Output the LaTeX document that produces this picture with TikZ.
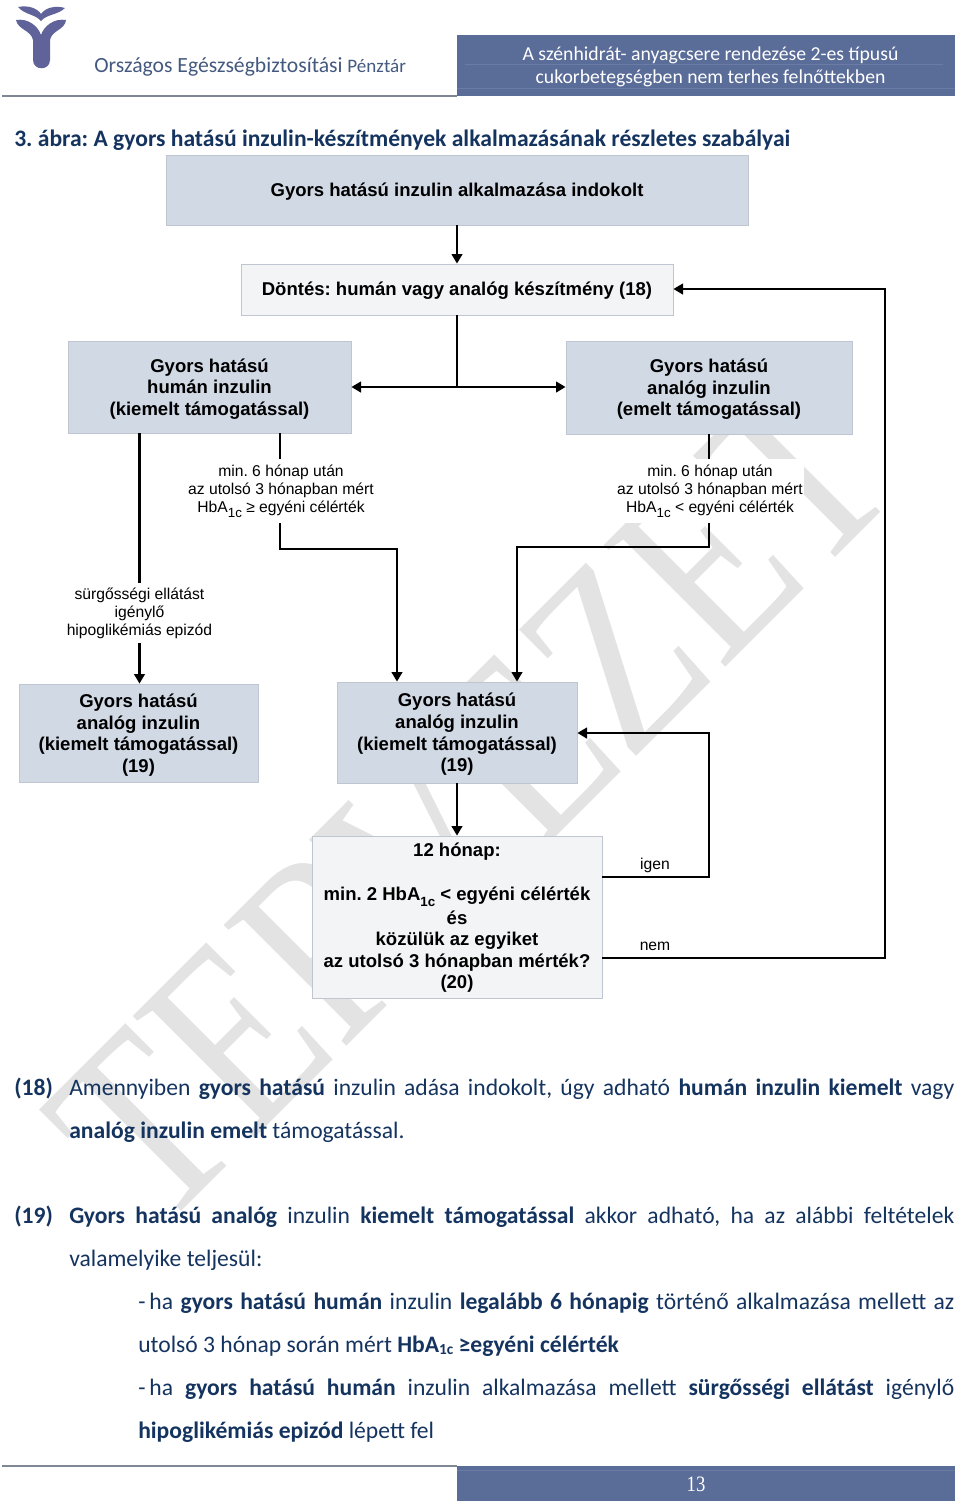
\documentclass[tikz,border=0pt]{standalone}
\usepackage{fontspec}
\setmainfont{Liberation Sans}
\newfontfamily\bodyfont{Carlito}
\newfontfamily\serfont{Liberation Serif}
\usetikzlibrary{arrows.meta}
\frenchspacing
\definecolor{boxblue}{HTML}{D1D9E5}
\definecolor{boxgray}{HTML}{F3F4F5}
\definecolor{boxedge}{HTML}{BFC6D2}
\definecolor{navy}{HTML}{14345F}
\definecolor{bandblue}{HTML}{5A6C98}
\definecolor{bandline}{HTML}{6A7BA5}
\definecolor{rulegray}{HTML}{7F8794}
\definecolor{logoblue}{HTML}{5F6399}
\definecolor{headtext}{HTML}{44597F}
\definecolor{wm}{HTML}{E3E3E3}
\newcommand\subc[1]{\raisebox{-0.6ex}{\fontsize{10}{10}\selectfont #1}}
\newcommand\bsub[1]{\raisebox{-0.25ex}{\fontsize{11.5}{11.5}\selectfont #1}}
\newcommand\jline[1]{\makebox[663.75pt][s]{#1}}
\newcommand\jlineb[1]{\makebox[612pt][s]{#1}}
\newcommand\tr[1]{\rule{0pt}{#1pt}}
\tikzset{
  pxbox/.style 2 args={minimum width=#1*0.75pt,minimum height=#2*0.75pt,inner sep=0pt,align=center},
  bluebox/.style={draw=boxedge,line width=0.6pt,fill=boxblue,font=\fontsize{13.9}{16.2}\selectfont\bfseries},
  graybox/.style={draw=boxedge,line width=0.6pt,fill=boxgray,font=\fontsize{13.9}{16.2}\selectfont\bfseries},
  condlabel/.style={fill=white,inner sep=0pt,align=center,font=\fontsize{11.75}{13.6}\selectfont},
  smalllabel/.style={inner sep=0pt,font=\fontsize{11.75}{13.6}\selectfont},
  flow/.style={draw=black,line width=1.6pt},
  flowarrow/.style={flow,-{Triangle[length=7.2pt,width=8pt]}},
  bodyline/.style={anchor=base west,inner sep=0pt,text=navy,font=\bodyfont\fontsize{17.7}{20}\selectfont},
  headline/.style={inner sep=0pt,text=white,font=\bodyfont\fontsize{14.8}{17}\selectfont},
  watermark/.style={inner sep=0pt,text=wm,font=\serfont\fontsize{159}{159}\selectfont}
}
\begin{document}
\begin{tikzpicture}[x=0.75pt,y=-0.75pt]
\useasboundingbox (0,0) rectangle (960,1507);
% watermark
\node[watermark,rotate=45,yscale=1.24] (wmark) at (472,802) {TERVEZET};
% header
\fill[logoblue] (16,20) .. controls (28,18) and (38,26) .. (41,35) .. controls (44,26) and (54,18) .. (66,20)
  .. controls (65,30) and (52,30) .. (50,40) -- (50,60) .. controls (50,71) and (33,71) .. (33,60) -- (33,40)
  .. controls (31,30) and (18,30) .. (16,20) -- cycle;
\fill[logoblue] (18,7) .. controls (28,5) and (37,8) .. (41,14) .. controls (45,8) and (55,5) .. (65,8)
  .. controls (58,15) and (47,14) .. (41,21) .. controls (35,14) and (25,15) .. (18,7) -- cycle;
\node[inner sep=0pt,anchor=base west,text=headtext,font=\bodyfont\fontsize{16.25}{18}\selectfont] (org) at (94,72)
  {Országos Egészségbiztosítási \fontsize{14.3}{16}\selectfont Pénztár};
\draw[rulegray,line width=0.9pt] (2,96) -- (457,96);
\fill[bandblue] (457,35) rectangle (955,96);
\draw[bandline,line width=0.4pt] (465,64) -- (943,64) (457,88.5) -- (955,88.5);
\node[headline] (h1) at (710.5,55) {A szénhidrát- anyagcsere rendezése 2-es típusú};
\node[headline] (h2) at (710.5,78) {cukorbetegségben nem terhes felnőttekben};
% title
\node[inner sep=0pt,anchor=base west,text=navy,font=\bodyfont\bfseries\fontsize{17.7}{20}\selectfont] (title) at (14,146)
  {3. ábra: A gyors hatású inzulin-készítmények alkalmazásának részletes szabályai};
% boxes
\node[bluebox,pxbox={582}{70}] (A) at (457,190) {\tr{12.4}Gyors hatású inzulin alkalmazása indokolt};
\node[graybox,pxbox={432}{51}] (B) at (457,289.5) {\tr{12.4}Döntés: humán vagy analóg készítmény (18)};
\node[bluebox,pxbox={283}{92}] (C) at (209.5,387) {\tr{13.1}Gyors hatású\\humán inzulin\\(kiemelt támogatással)};
\node[bluebox,pxbox={286}{93}] (D) at (709,387.5) {\tr{13.1}Gyors hatású\\analóg inzulin\\(emelt támogatással)};
\node[bluebox,pxbox={239}{98}] (E) at (138.5,733) {\tr{13.1}Gyors hatású\\analóg inzulin\\(kiemelt támogatással)\\(19)};
\node[bluebox,pxbox={240}{101}] (F) at (457,732.5) {\tr{13.1}Gyors hatású\\analóg inzulin\\(kiemelt támogatással)\\(19)};
\node[draw=boxedge,line width=0.6pt,fill=boxgray,pxbox={290}{162}] (G) at (457,917) {};
\node[inner sep=0pt,font=\fontsize{13.9}{16.1}\selectfont\bfseries] (G1) at (457,852) {12 hónap:};
\node[inner sep=0pt,align=center,font=\fontsize{13.9}{16.1}\selectfont\bfseries] (G2) at (457,940)
  {min. 2 HbA\subc{1c} < egyéni célérték\\[1.5pt]és\\közülük az egyiket\\az utolsó 3 hónapban mérték?\\(20)};
% condition labels
\node[condlabel,minimum width=139.5pt,minimum height=48pt] (L1) at (281,491)
  {min. 6 hónap után\\az utolsó 3 hónapban mért\\HbA\subc{1c} ≥ egyéni célérték};
\node[condlabel,minimum width=141pt,minimum height=48pt] (L2) at (710,491)
  {min. 6 hónap után\\az utolsó 3 hónapban mért\\HbA\subc{1c} < egyéni célérték};
\node[condlabel,minimum width=109.5pt,minimum height=44pt] (L3) at (139.5,613)
  {sürgősségi ellátást\\igénylő\\hipoglikémiás epizód};
% connector corner points
\coordinate (c1a) at (280,549);
\coordinate (c1b) at (397,549);
\coordinate (c2a) at (709,547);
\coordinate (c2b) at (517,547);
\coordinate (split) at (457,387);
\coordinate (igenT) at (709,877);
\coordinate (igenU) at (709,733);
\coordinate (nemT) at (885,958);
\coordinate (nemU) at (885,289);
% connectors
\draw[flowarrow] (A.south) -- (B.north);
\draw[flow] (B.south) -- (split);
\draw[flowarrow] (split) -- (split -| C.east);
\draw[flowarrow] (split) -- (split -| D.west);
\draw[flow] (C.south -| L3.north) -- (L3.north);
\draw[flowarrow] (L3.south) -- (L3.south |- E.north);
\draw[flow] (C.south -| c1a) -- (L1.north -| c1a);
\draw[flowarrow,line join=miter] (L1.south -| c1a) -- (c1a) -- (c1b) -- (c1b |- F.north);
\draw[flow] (D.south -| c2a) -- (L2.north -| c2a);
\draw[flowarrow,line join=miter] (L2.south -| c2a) -- (c2a) -- (c2b) -- (c2b |- F.north);
\draw[flowarrow] (F.south) -- (G.north);
\draw[flowarrow,line join=miter] (G.east |- igenT) -- (igenT) -- (igenU) -- (F.east |- igenU);
\draw[flowarrow,line join=miter] (G.east |- nemT) -- (nemT) -- (nemU) -- (B.east |- nemU);
\node[smalllabel] (igen) at (655,865) {igen};
\node[smalllabel] (nem) at (655,946) {nem};
% body text
\node[bodyline] (n18) at (14,1095) {\bfseries (18)};
\node[bodyline] (t18a) at (69,1095) {\jline{Amennyiben \textbf{gyors hatású} inzulin adása indokolt, úgy adható \textbf{humán inzulin kiemelt} vagy}};
\node[bodyline] (t18b) at (69,1138) {\textbf{analóg inzulin emelt} támogatással.};
\node[bodyline] (n19) at (14,1223) {\bfseries (19)};
\node[bodyline] (t19a) at (69,1223) {\jline{\textbf{Gyors hatású analóg} inzulin \textbf{kiemelt támogatással} akkor adható, ha az alábbi feltételek}};
\node[bodyline] (t19b) at (69,1266) {valamelyike teljesül:};
\node[bodyline] (t19c) at (138,1309) {\jlineb{-\kern3pt ha \textbf{gyors hatású humán} inzulin \textbf{legalább 6 hónapig} történő alkalmazása mellett az}};
\node[bodyline] (t19d) at (138,1352) {utolsó 3 hónap során mért \textbf{HbA\bsub{1c} ≥egyéni célérték}};
\node[bodyline] (t19e) at (138,1395) {\jlineb{-\kern3pt ha \textbf{gyors hatású humán} inzulin alkalmazása mellett \textbf{sürgősségi ellátást} igénylő}};
\node[bodyline] (t19f) at (138,1438) {\textbf{hipoglikémiás epizód} lépett fel};
% footer
\draw[rulegray,line width=0.9pt] (2,1466) -- (457,1466);
\fill[bandblue] (457,1466) rectangle (955,1501);
\draw[bandline,line width=0.5pt] (457,1470) -- (955,1470);
\node[inner sep=0pt,text=white,xscale=0.85,font=\serfont\fontsize{16.5}{18}\selectfont] (page) at (696,1484) {13};
\end{tikzpicture}
\end{document}
